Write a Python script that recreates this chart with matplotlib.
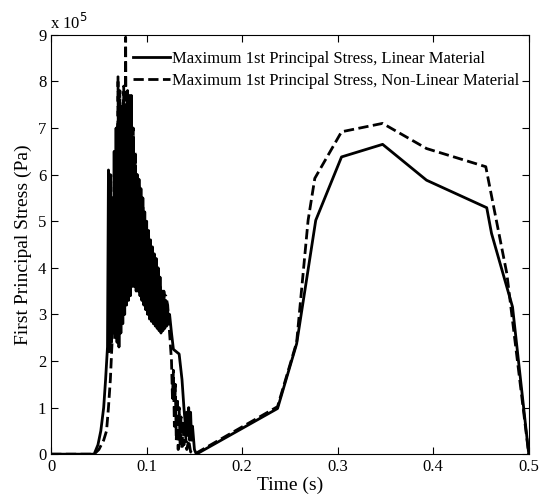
import matplotlib.pyplot as plt

plt.rcParams['font.family'] = ['Liberation Serif', 'DejaVu Serif']

# stress values are in units of 1e5 Pa
# linear material: rise, oscillating part, tail, second pulse
t_lin_rise = [0.0, 0.045, 0.049, 0.052, 0.055, 0.057, 0.059]
s_lin_rise = [0.0, 0.0, 0.2, 0.5, 1.0, 1.6, 2.3]

t_lin_osc = [0.060, 0.061, 0.062, 0.063, 0.064, 0.065, 0.066, 0.067, 0.068, 0.069,
             0.070, 0.071, 0.072, 0.073, 0.074, 0.075, 0.076, 0.077, 0.078, 0.079,
             0.080, 0.081, 0.082, 0.083, 0.084, 0.085, 0.086, 0.087, 0.088, 0.089,
             0.090, 0.091, 0.092, 0.093, 0.094, 0.095, 0.096, 0.097, 0.098, 0.099,
             0.100, 0.101, 0.102, 0.103, 0.104, 0.105, 0.106, 0.107, 0.108, 0.109,
             0.110, 0.111, 0.112, 0.113, 0.114, 0.115, 0.116, 0.117, 0.118, 0.119,
             0.120, 0.121, 0.122, 0.123, 0.124]
s_lin_osc = [6.1, 2.2, 6.0, 2.4, 5.5, 2.6, 6.5, 2.5, 7.0, 2.4,
             7.1, 2.3, 7.3, 2.6, 7.4, 2.8, 7.6, 3.0, 7.5, 3.2,
             7.8, 3.3, 7.7, 3.4, 7.7, 3.6, 6.8, 3.6, 6.2, 3.5,
             6.0, 3.5, 5.9, 3.4, 5.7, 3.3, 5.5, 3.2, 5.2, 3.1,
             5.0, 3.0, 4.8, 2.9, 4.6, 2.85, 4.45, 2.8, 4.3, 2.75,
             4.2, 2.7, 4.0, 2.65, 3.8, 2.6, 3.5, 2.65, 3.4, 2.7,
             3.3, 2.75, 3.1, 2.8, 3.0]

t_lin_tail = [0.126, 0.128, 0.131, 0.134, 0.137, 0.139, 0.141, 0.142, 0.143,
              0.144, 0.145, 0.146, 0.147, 0.148, 0.150, 0.152]
s_lin_tail = [2.6, 2.25, 2.2, 2.15, 1.6, 1.0, 0.5, 0.9, 0.4,
              1.0, 0.3, 0.9, 0.3, 0.6, 0.1, 0.0]

t_lin_pulse = [0.237, 0.257, 0.277, 0.304, 0.347, 0.393, 0.456, 0.461, 0.483, 0.500]
s_lin_pulse = [0.98, 2.37, 5.02, 6.38, 6.65, 5.88, 5.29, 4.74, 3.16, 0.0]

# non-linear material
t_nl_rise = [0.0, 0.045, 0.050, 0.055, 0.058, 0.060, 0.062, 0.064]
s_nl_rise = [0.0, 0.0, 0.1, 0.3, 0.5, 1.0, 1.6, 2.5]

t_nl_osc = [0.066, 0.067, 0.068, 0.069, 0.070, 0.071, 0.072, 0.073, 0.074, 0.075,
            0.076, 0.077, 0.078, 0.079, 0.080, 0.081, 0.082, 0.083, 0.084, 0.085,
            0.086, 0.087, 0.088, 0.089, 0.090, 0.091, 0.092, 0.093, 0.094, 0.095,
            0.096, 0.097, 0.098, 0.099, 0.100, 0.101, 0.102, 0.103, 0.104, 0.105,
            0.106, 0.107, 0.108, 0.109, 0.110, 0.111, 0.112, 0.113, 0.114, 0.115,
            0.116, 0.117, 0.118, 0.119, 0.120]
s_nl_osc = [6.0, 3.0, 6.5, 3.2, 8.1, 3.4, 7.8, 3.5, 7.5, 3.7,
            7.9, 3.8, 8.95, 3.9, 7.8, 4.0, 7.5, 3.9, 7.2, 3.8,
            7.0, 3.7, 6.5, 3.6, 6.0, 3.65, 5.8, 3.7, 5.5, 3.65,
            5.3, 3.6, 5.0, 3.55, 4.8, 3.5, 4.6, 3.45, 4.4, 3.4,
            4.2, 3.35, 4.05, 3.3, 3.9, 3.3, 3.75, 3.3, 3.6, 3.3,
            3.5, 3.3, 3.5, 3.4, 3.4]

t_nl_tail = [0.122, 0.124, 0.126, 0.127, 0.128, 0.129, 0.130, 0.131, 0.132,
             0.133, 0.134, 0.135, 0.136, 0.137, 0.138, 0.139, 0.140, 0.142,
             0.144, 0.146, 0.150]
s_nl_tail = [3.2, 2.6, 2.0, 1.2, 1.8, 0.6, 1.5, 0.3, 1.2,
             0.1, 1.0, 0.2, 0.8, 0.1, 0.7, 0.2, 0.6, 0.1,
             0.3, 0.05, 0.0]

t_nl_pulse = [0.237, 0.257, 0.269, 0.276, 0.304, 0.347, 0.393, 0.455, 0.477, 0.500]
s_nl_pulse = [1.02, 2.4, 5.02, 5.92, 6.92, 7.10, 6.56, 6.17, 3.88, 0.0]

t_lin = t_lin_rise + t_lin_osc + t_lin_tail + t_lin_pulse
s_lin = s_lin_rise + s_lin_osc + s_lin_tail + s_lin_pulse
t_nonlin = t_nl_rise + t_nl_osc + t_nl_tail + t_nl_pulse
s_nonlin = s_nl_rise + s_nl_osc + s_nl_tail + s_nl_pulse

x_ticks = [0, 0.1, 0.2, 0.3, 0.4, 0.5]
x_labels = ['0', '0.1', '0.2', '0.3', '0.4', '0.5']
y_ticks = [0, 1, 2, 3, 4, 5, 6, 7, 8, 9]

fig = plt.figure(figsize=(5.44, 4.98), dpi=100)
ax = fig.add_axes([0.094, 0.088, 0.878, 0.842])

ax.plot(t_lin, s_lin, color='black', linewidth=2,
        label='Maximum 1st Principal Stress, Linear Material')
ax.plot(t_nonlin, s_nonlin, color='black', linewidth=2, linestyle='--',
        label='Maximum 1st Principal Stress, Non-Linear Material')

ax.set_xlim(0, 0.5)
ax.set_ylim(0, 9)
ax.set_xticks(x_ticks)
ax.set_xticklabels(x_labels)
ax.set_yticks(y_ticks)
ax.tick_params(direction='in', top=True, right=True, labelsize=12, length=5)
for sp in ax.spines.values():
    sp.set_linewidth(0.8)

ax.set_xlabel('Time (s)', fontsize=14, labelpad=1)
ax.set_ylabel('First Principal Stress (Pa)', fontsize=14, labelpad=4)
ax.text(-0.003, 1.005, 'x 10$^5$', transform=ax.transAxes, fontsize=12,
        ha='left', va='bottom')

ax.legend(loc='upper left', bbox_to_anchor=(0.172, 0.962), frameon=False,
          fontsize=12, handlelength=2.2, handletextpad=0.1, borderpad=0,
          borderaxespad=0, labelspacing=0.35)

fig.savefig('out.png', dpi=100)
